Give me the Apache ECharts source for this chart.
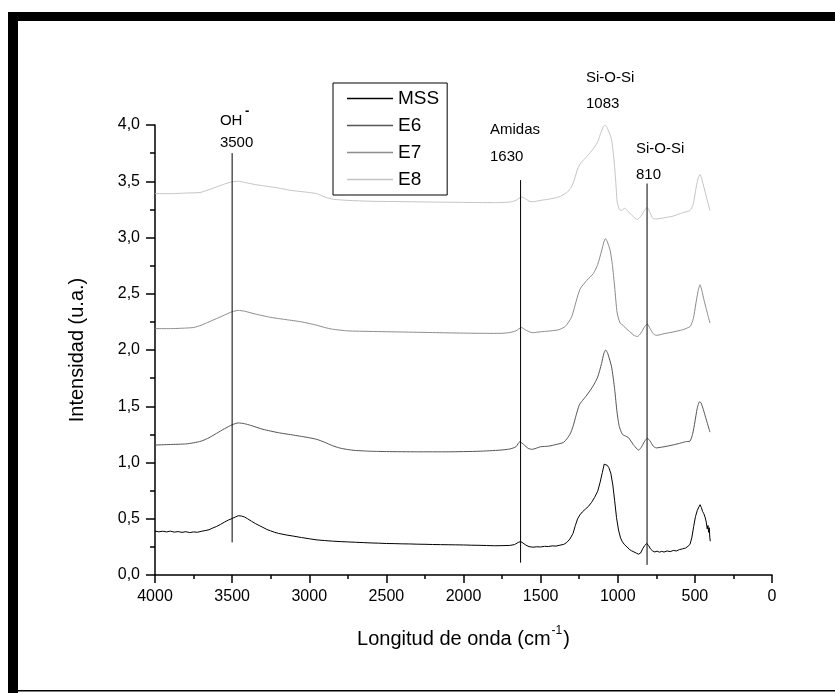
<!DOCTYPE html>
<html>
<head>
<meta charset="utf-8">
<script src="https://cdn.jsdelivr.net/npm/echarts@6/dist/echarts.min.js"></script>
<style>
html,body{margin:0;padding:0;background:#fff;}
#c{width:835px;height:693px;}
</style>
</head>
<body>
<div id="c"></div>
<script>
// ---- data ----
const seriesNames = ['MSS', 'E6', 'E7', 'E8'];
const xTicks = [4000, 3500, 3000, 2500, 2000, 1500, 1000, 500, 0];
const yTicks = [0, 0.5, 1, 1.5, 2, 2.5, 3, 3.5, 4];

const mss = [[4000,0.390],[3975,0.384],[3950,0.389],[3925,0.383],[3900,0.390],[3875,0.381],[3850,0.386],[3825,0.379],[3800,0.385],[3775,0.377],[3750,0.383],[3725,0.380],[3700,0.388],[3675,0.395],[3650,0.402],[3625,0.418],[3600,0.432],[3575,0.450],[3550,0.470],[3525,0.488],[3500,0.502],[3480,0.515],[3460,0.527],[3440,0.524],[3420,0.516],[3400,0.500],[3375,0.478],[3350,0.458],[3325,0.440],[3300,0.423],[3275,0.405],[3250,0.392],[3225,0.380],[3200,0.370],[3150,0.356],[3100,0.345],[3050,0.333],[3000,0.322],[2950,0.312],[2900,0.306],[2850,0.301],[2800,0.297],[2750,0.294],[2700,0.291],[2650,0.288],[2600,0.285],[2550,0.283],[2500,0.280],[2450,0.279],[2400,0.277],[2350,0.276],[2300,0.274],[2250,0.273],[2200,0.271],[2150,0.270],[2100,0.269],[2050,0.268],[2000,0.267],[1950,0.265],[1900,0.264],[1850,0.262],[1800,0.260],[1750,0.261],[1700,0.263],[1670,0.270],[1645,0.290],[1630,0.297],[1615,0.285],[1595,0.265],[1575,0.252],[1550,0.247],[1525,0.251],[1500,0.249],[1475,0.255],[1450,0.253],[1425,0.259],[1400,0.257],[1375,0.265],[1350,0.272],[1330,0.290],[1310,0.320],[1290,0.370],[1275,0.440],[1260,0.500],[1245,0.535],[1230,0.560],[1210,0.585],[1190,0.610],[1170,0.645],[1150,0.690],[1130,0.745],[1115,0.820],[1100,0.910],[1088,0.985],[1078,0.995],[1068,0.975],[1058,0.955],[1045,0.905],[1032,0.800],[1020,0.660],[1008,0.510],[995,0.400],[982,0.330],[970,0.295],[955,0.268],[940,0.250],[925,0.228],[910,0.215],[895,0.205],[880,0.195],[866,0.185],[852,0.195],[838,0.235],[825,0.262],[812,0.280],[800,0.262],[788,0.232],[775,0.215],[760,0.205],[745,0.212],[730,0.203],[715,0.210],[700,0.204],[680,0.214],[660,0.208],[640,0.218],[620,0.214],[600,0.226],[580,0.232],[560,0.240],[545,0.255],[532,0.272],[520,0.330],[508,0.430],[496,0.520],[484,0.575],[474,0.605],[466,0.625],[458,0.600],[450,0.565],[442,0.545],[434,0.515],[426,0.470],[420,0.410],[415,0.440],[411,0.380],[407,0.420],[403,0.330],[400,0.300]];

const e6 = [[4000,1.155],[3900,1.160],[3800,1.165],[3750,1.175],[3700,1.190],[3650,1.220],[3600,1.260],[3550,1.300],[3500,1.335],[3460,1.352],[3420,1.345],[3380,1.330],[3300,1.295],[3200,1.265],[3100,1.243],[3000,1.220],[2950,1.205],[2900,1.180],[2850,1.150],[2800,1.128],[2750,1.115],[2700,1.107],[2600,1.100],[2500,1.097],[2300,1.095],[2100,1.095],[1900,1.100],[1763,1.110],[1700,1.120],[1660,1.140],[1635,1.185],[1610,1.160],[1580,1.125],[1555,1.117],[1500,1.140],[1450,1.145],[1400,1.160],[1350,1.180],[1310,1.250],[1290,1.320],[1270,1.420],[1250,1.510],[1235,1.540],[1200,1.600],[1160,1.680],[1130,1.760],[1105,1.880],[1090,1.970],[1078,2.000],[1065,1.970],[1040,1.850],[1020,1.650],[1005,1.450],[990,1.320],[970,1.250],[950,1.235],[930,1.220],[900,1.160],[875,1.120],[866,1.110],[850,1.130],[825,1.190],[808,1.215],[790,1.190],[770,1.145],[750,1.130],[700,1.140],[642,1.156],[600,1.170],[560,1.185],[532,1.190],[515,1.250],[500,1.360],[485,1.480],[470,1.540],[460,1.530],[445,1.470],[430,1.400],[415,1.330],[402,1.270]];

const e7 = [[4000,2.190],[3900,2.190],[3800,2.195],[3750,2.200],[3700,2.220],[3650,2.250],[3600,2.280],[3550,2.310],[3500,2.340],[3460,2.352],[3420,2.345],[3350,2.320],[3250,2.290],[3150,2.270],[3050,2.250],[2950,2.220],[2900,2.200],[2850,2.185],[2750,2.170],[2600,2.165],[2400,2.160],[2200,2.155],[2000,2.150],[1850,2.148],[1763,2.148],[1700,2.155],[1660,2.170],[1625,2.200],[1600,2.180],[1570,2.160],[1550,2.154],[1500,2.162],[1450,2.168],[1382,2.180],[1340,2.210],[1300,2.290],[1280,2.380],[1260,2.480],[1241,2.550],[1200,2.620],[1158,2.680],[1130,2.760],[1105,2.880],[1090,2.960],[1080,2.990],[1070,2.970],[1050,2.890],[1035,2.760],[1020,2.560],[1004,2.330],[985,2.240],[966,2.220],[945,2.190],[920,2.160],[895,2.130],[873,2.120],[850,2.150],[825,2.210],[808,2.230],[790,2.190],[770,2.145],[750,2.130],[700,2.145],[642,2.160],[580,2.180],[530,2.210],[510,2.280],[495,2.400],[480,2.520],[467,2.580],[455,2.530],[440,2.440],[425,2.360],[412,2.290],[402,2.240]];

const e8 = [[4000,3.390],[3900,3.390],[3800,3.395],[3708,3.400],[3650,3.425],[3600,3.450],[3550,3.475],[3500,3.495],[3460,3.500],[3420,3.490],[3350,3.470],[3298,3.460],[3200,3.440],[3125,3.420],[3000,3.400],[2952,3.390],[2900,3.360],[2844,3.340],[2750,3.330],[2600,3.322],[2476,3.320],[2200,3.315],[2000,3.312],[1800,3.310],[1700,3.315],[1660,3.330],[1625,3.360],[1600,3.345],[1570,3.320],[1550,3.318],[1500,3.330],[1450,3.340],[1382,3.360],[1330,3.400],[1300,3.450],[1280,3.520],[1260,3.610],[1241,3.660],[1200,3.720],[1158,3.790],[1130,3.850],[1115,3.910],[1095,3.980],[1083,4.000],[1070,3.980],[1055,3.930],[1040,3.870],[1025,3.700],[1012,3.480],[1004,3.320],[990,3.250],[975,3.240],[955,3.260],[935,3.235],[910,3.200],[890,3.175],[873,3.160],[850,3.190],[825,3.245],[808,3.265],[790,3.220],[773,3.170],[750,3.165],[700,3.175],[642,3.190],[580,3.220],[532,3.240],[510,3.300],[495,3.420],[480,3.520],[467,3.560],[455,3.520],[440,3.440],[425,3.360],[412,3.290],[402,3.240]];

// vertical band-marker lines
const ohLine = [[3500, 0.29], [3500, 3.75]];
const amidasLine = [[1630, 0.11], [1630, 3.51]];
const sioLine = [[810, 0.09], [810, 3.48]];

// annotation texts and their anchor (wavenumber, intensity)
const annoText = ['OH', '3500', 'Amidas', '1630', 'Si-O-Si', '1083', 'Si-O-Si', '810'];
const annoW = [3579, 3579, 1828, 1828, 1206, 1206, 882, 882];
const annoV = [4.04, 3.84, 3.96, 3.72, 4.42, 4.19, 3.79, 3.56];

// ---- chart ----
const FONT = '"Liberation Sans", Arial, Helvetica, sans-serif';
const colors = ['#000000', '#555555', '#8c8c8c', '#c4c4c4'];
const chart = echarts.init(document.getElementById('c'), null, {renderer: 'canvas'});
const fmtY = v => v.toFixed(1).replace('.', ',');
const fmtX = v => String(v);
const data = [mss, e6, e7, e8];

const series = seriesNames.map((n, i) => ({
  name: n, type: 'line', data: data[i], showSymbol: false, symbol: 'none',
  smooth: i === 0 ? false : 0.2,
  lineStyle: {color: colors[i], width: 1}, itemStyle: {color: colors[i]},
  silent: true, animation: false, z: 3
}));
[ohLine, amidasLine, sioLine].forEach(l => series.push({
  type: 'line', data: l, showSymbol: false, symbol: 'none', silent: true, animation: false,
  lineStyle: {color: '#000', width: 1}, z: 4
}));

chart.setOption({
  animation: false,
  backgroundColor: '#fff',
  grid: {left: 155, right: 63, top: 125, bottom: 118, containLabel: false, outerBoundsMode: 'none'},
  legend: {
    data: seriesNames, orient: 'vertical', left: 333, top: 83,
    icon: 'rect', itemWidth: 46, itemHeight: 1.5, itemGap: 8,
    padding: [6, 8, 6, 14], borderColor: '#000', borderWidth: 1,
    textStyle: {fontFamily: FONT, fontSize: 19, color: '#000'}
  },
  xAxis: {
    type: 'value', inverse: true, min: 0, max: 4000, interval: 500,
    name: '{n|Longitud de onda (cm}{s|-1}{n|)}', nameLocation: 'middle', nameGap: 50,
    nameTextStyle: {rich: {
      n: {fontFamily: FONT, fontSize: 20, color: '#000', lineHeight: 24, verticalAlign: 'bottom'},
      s: {fontFamily: FONT, fontSize: 12, color: '#000', lineHeight: 24, verticalAlign: 'top', padding: [0, 1, 0, 1]}
    }},
    axisLine: {show: true, onZero: false, lineStyle: {color: '#000', width: 1.5}},
    axisTick: {show: true, inside: false, length: 8, lineStyle: {color: '#000', width: 1.5}},
    minorTick: {show: true, splitNumber: 2, length: 4, lineStyle: {color: '#000', width: 1.5}},
    splitLine: {show: false},
    axisLabel: {color: '#000', fontFamily: FONT, fontSize: 16, margin: 14, formatter: fmtX}
  },
  yAxis: {
    type: 'value', min: 0, max: 4, interval: 0.5, position: 'left',
    name: 'Intensidad (u.a.)', nameLocation: 'middle', nameGap: 68, nameRotate: 90,
    nameTextStyle: {fontFamily: FONT, fontSize: 20, color: '#000'},
    axisLine: {show: true, onZero: false, lineStyle: {color: '#000', width: 1.5}},
    axisTick: {show: true, inside: false, length: 9, lineStyle: {color: '#000', width: 1.5}},
    minorTick: {show: true, splitNumber: 2, length: 5, lineStyle: {color: '#000', width: 1.5}},
    splitLine: {show: false},
    axisLabel: {color: '#000', fontFamily: FONT, fontSize: 16, margin: 15, formatter: fmtY}
  },
  series: series
});

// annotation texts + frame
const g = [];
annoText.forEach((t, i) => {
  const p = chart.convertToPixel({gridIndex: 0}, [annoW[i], annoV[i]]);
  g.push({type: 'text', x: p[0], y: p[1], silent: true,
    style: {text: t, fill: '#000', font: '15px ' + FONT, textAlign: 'left', textVerticalAlign: 'middle'}});
  if (t === 'OH') {
    g.push({type: 'text', x: p[0] + 25, y: p[1] - 9, silent: true,
      style: {text: '-', fill: '#000', font: 'bold 13px ' + FONT, textAlign: 'left', textVerticalAlign: 'middle'}});
  }
});
g.push({type: 'rect', shape: {x: 8, y: 12, width: 827, height: 9}, style: {fill: '#000'}, silent: true});
g.push({type: 'rect', shape: {x: 8, y: 12, width: 10, height: 681}, style: {fill: '#000'}, silent: true});
g.push({type: 'rect', shape: {x: 8, y: 690, width: 827, height: 1.5}, style: {fill: '#000'}, silent: true});
chart.setOption({graphic: g});
</script>
</body>
</html>
